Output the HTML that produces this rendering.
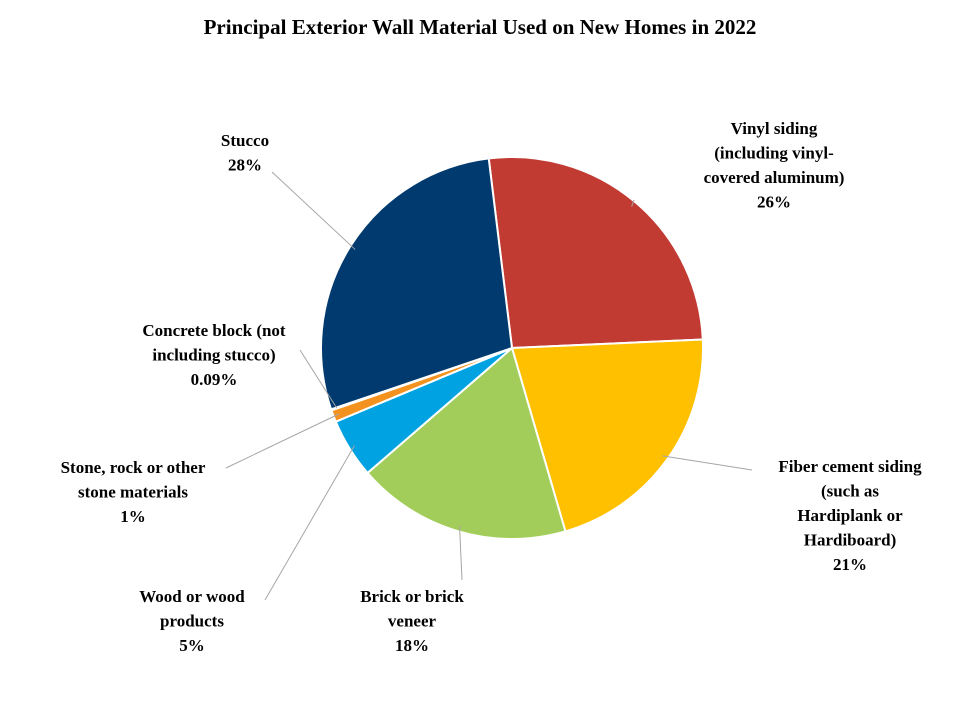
<!DOCTYPE html>
<html><head><meta charset="utf-8">
<style>
body{margin:0;background:#fff;}
svg{display:block;}
text{font-family:"Liberation Serif",serif;font-weight:bold;font-size:17px;fill:#000;}
</style></head>
<body>
<svg id="chart" width="960" height="720">
<rect width="960" height="720" fill="#fff"/>
<text x="480" y="34" text-anchor="middle" style="font-size:21px">Principal Exterior Wall Material Used on New Homes in 2022</text>
<g id="slices"></g>
<g id="leaders"></g>
<g id="labels"></g>
</svg>
<script>
const categories = ["Vinyl siding", "Fiber cement siding", "Brick or brick veneer", "Wood or wood products", "Stone, rock or other stone materials", "Concrete block", "Stucco"];
const values = [26, 21, 18, 5, 1, 0.09, 28];
const valueLabels = ["26%", "21%", "18%", "5%", "1%", "0.09%", "28%"];
const labelLines = [
  ["Vinyl  siding", "(including  vinyl-", "covered aluminum)"],
  ["Fiber cement siding", "(such as", "Hardiplank  or", "Hardiboard)"],
  ["Brick or brick", "veneer"],
  ["Wood or wood", "products"],
  ["Stone, rock or other", "stone materials"],
  ["Concrete block (not", "including  stucco)"],
  ["Stucco"]
];
const colors = ["#C13B33", "#FFC000", "#A3CD5B", "#00A2E1", "#F4921F", "#C8C8C8", "#003A6E"];
const labelPos = [[774,128],[850,466],[412,596],[192,596],[133,467],[214,330],[245,140]];
const leaderEnd = [[634,200],[752,470],[462,580],[265,600],[226,468],[300,350],[272,172]];

const NS = "http://www.w3.org/2000/svg";
const cx = 512, cy = 348, r = 191, startDeg = -7;
const total = values.reduce((a,b)=>a+b,0);
function pt(deg, rad){ const a=(deg-90)*Math.PI/180; return [cx+rad*Math.cos(a), cy+rad*Math.sin(a)]; }
const gS=document.getElementById('slices'), gL=document.getElementById('leaders'), gT=document.getElementById('labels');
let ang = startDeg;
values.forEach((v,i)=>{
  const span = v/total*360;
  const a0 = ang, a1 = ang+span;
  const p0=pt(a0,r), p1=pt(a1,r);
  const path=document.createElementNS(NS,'path');
  path.setAttribute('d',`M${cx},${cy} L${p0[0]},${p0[1]} A${r},${r} 0 ${span>180?1:0} 1 ${p1[0]},${p1[1]} Z`);
  path.setAttribute('fill',colors[i]);
  path.setAttribute('stroke','#fff');
  path.setAttribute('stroke-width','2');
  
  
  gS.appendChild(path);
  const mid=pt((a0+a1)/2, r*0.97);
  const ln=document.createElementNS(NS,'line');
  ln.setAttribute('x1',mid[0]); ln.setAttribute('y1',mid[1]);
  ln.setAttribute('x2',leaderEnd[i][0]); ln.setAttribute('y2',leaderEnd[i][1]);
  ln.setAttribute('stroke','#A6A6A6'); ln.setAttribute('stroke-width','1');
  
  
  gL.appendChild(ln);
  const lines = labelLines[i].concat([valueLabels[i]]);
  lines.forEach((s,k)=>{
    const t=document.createElementNS(NS,'text');
    t.setAttribute('x',labelPos[i][0]);
    t.setAttribute('y',labelPos[i][1]+k*24.5+6);
    t.setAttribute('text-anchor','middle');
    t.setAttribute('xml:space','preserve');
    t.textContent=s;
    
    
    gT.appendChild(t);
  });
  ang = a1;
});
</script>
</body></html>
